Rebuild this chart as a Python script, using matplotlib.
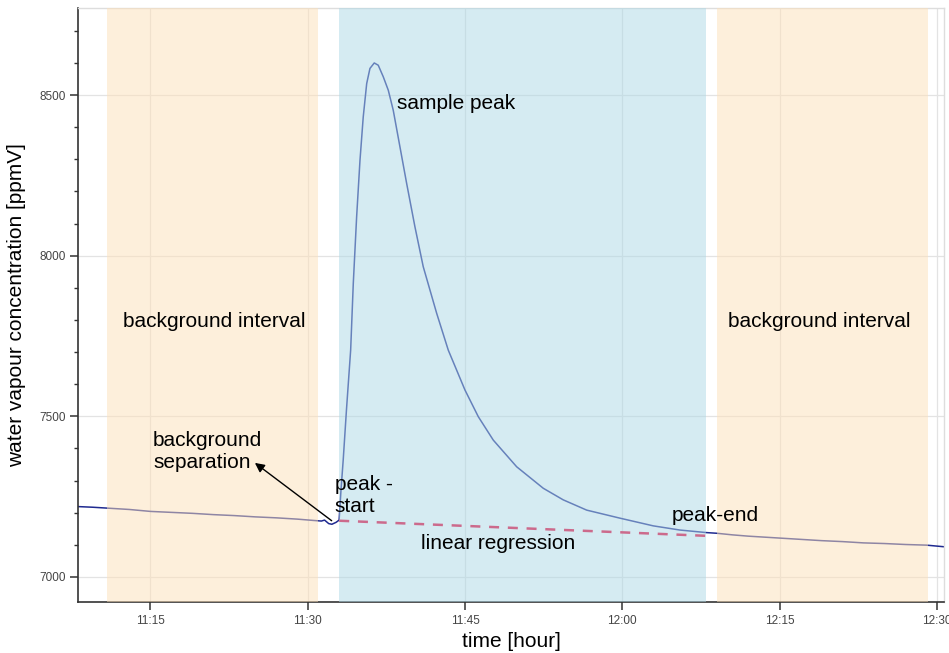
import matplotlib
matplotlib.use("Agg")
import matplotlib.pyplot as plt
from matplotlib.ticker import MultipleLocator, FuncFormatter, FixedLocator

plt.rcParams['font.family'] = ['Liberation Sans', 'DejaVu Sans']

# time in minutes after 11:00, water vapour in ppmV
time_min = [8.1, 9.5, 11.0, 13.0, 15.0, 17.0, 19.0, 21.0, 23.0, 25.0, 27.0, 29.0,
            30.5, 31.3, 31.6, 32.0, 32.3, 32.7, 32.99, 33.17, 33.38, 33.69, 34.09,
            34.34, 34.66, 34.98, 35.29, 35.62, 35.93, 36.34, 36.72, 37.20, 37.68,
            38.15, 38.79, 39.43, 40.22, 41.01, 42.29, 43.40, 44.99, 46.26,
            47.69, 49.92, 52.46, 54.36, 56.6, 59.77, 62.95, 65.49, 68.04, 69.0,
            70.5, 72.0, 73.5, 75.0, 77.0, 79.0, 81.0, 83.0, 85.0, 87.0, 89.0, 90.67]
h2o_ppmv = [7219, 7217, 7214, 7210, 7204, 7201, 7198, 7194, 7191, 7187, 7184, 7180,
            7176, 7174, 7177, 7166, 7164, 7170, 7177, 7271, 7364, 7520, 7706,
            7913, 8121, 8297, 8432, 8536, 8583, 8600, 8593, 8557, 8515,
            8453, 8339, 8225, 8090, 7966, 7821, 7706, 7582, 7499,
            7426, 7343, 7276, 7240, 7208, 7183, 7159, 7146, 7138, 7136,
            7131, 7127, 7124, 7121, 7117, 7113, 7110, 7106, 7104, 7101, 7099, 7094]

# linear baseline under the peak
regr_time = [33.0, 68.0]
regr_ppmv = [7175, 7128]

# shaded intervals (start, end) in minutes after 11:00
background_intervals = [(10.9, 31.0), (69.0, 89.1)]
peak_interval = (33.0, 68.0)

x_ticks = [15, 30, 45, 60, 75, 90]
y_ticks = [7000, 7500, 8000, 8500]

fig = plt.figure(figsize=(9.49, 6.53), dpi=100)
ax = fig.add_axes([0.0822, 0.0781, 0.9125, 0.9096])

ax.plot(time_min, h2o_ppmv, color='#1f2a90', lw=1.1, zorder=2,
        solid_joinstyle='round')

for start, end in background_intervals:
    ax.axvspan(start, end, color='#fde0b8', alpha=0.5, lw=0, zorder=3)
ax.axvspan(*peak_interval, color='#add8e6', alpha=0.5, lw=0, zorder=3)

ax.plot(regr_time, regr_ppmv, color='#cc6a8c', lw=1.8, ls=(0, (4, 3.5)), zorder=4)

ax.set_xlim(8.09, 90.67)
ax.set_ylim(6922, 8771)

ax.xaxis.set_major_locator(FixedLocator(x_ticks))
ax.xaxis.set_major_formatter(FuncFormatter(
    lambda v, p: f"{11 + int(v) // 60}:{int(v) % 60:02d}"))
ax.yaxis.set_major_locator(FixedLocator(y_ticks))
ax.yaxis.set_minor_locator(MultipleLocator(100))

ax.grid(True, which='major', color='#e3e3e3', lw=0.9, zorder=0)
ax.set_axisbelow(True)

ax.tick_params(axis='both', which='major', length=5.5, width=1.1, color='#333333',
               labelsize=8.5, labelcolor='#444444', pad=3.5)
ax.tick_params(axis='y', which='minor', length=3, width=1.0, color='#333333')

for side in ('left', 'bottom'):
    ax.spines[side].set_color('#333333')
    ax.spines[side].set_linewidth(1.2)
for side in ('top', 'right'):
    ax.spines[side].set_color('#dddddd')
    ax.spines[side].set_linewidth(1.0)

ax.set_xlabel('time [hour]', fontsize=15, labelpad=4)
ax.set_ylabel('water vapour concentration [ppmV]', fontsize=15, labelpad=9)

txt = dict(fontsize=15, color='black', zorder=6)
ax.text(38.5, 8475, 'sample peak', ha='left', va='center', **txt)
ax.text(21.06, 7794, 'background interval', ha='center', va='center', **txt)
ax.text(78.75, 7794, 'background interval', ha='center', va='center', **txt)
ax.text(15.24, 7392, 'background\nseparation', ha='left', va='center', **txt)
ax.text(32.59, 7254, 'peak -\nstart', ha='left', va='center', **txt)
ax.text(48.14, 7103, 'linear regression', ha='center', va='center', **txt)
ax.text(64.73, 7190, 'peak-end', ha='left', va='center', **txt)

ax.annotate('', xy=(24.96, 7355), xytext=(32.28, 7175),
            arrowprops=dict(arrowstyle='-|>', color='black', lw=1.0,
                            mutation_scale=14, shrinkA=0, shrinkB=0),
            zorder=6)

fig.savefig('out.png', dpi=100)
